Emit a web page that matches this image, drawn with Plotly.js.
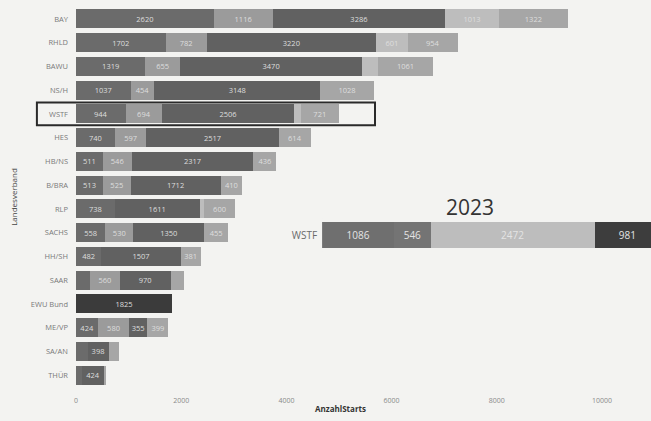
<!DOCTYPE html>
<html>
<head>
<meta charset="utf-8">
<script src="https://cdn.plot.ly/plotly-3.0.1.min.js"></script>
<style>html,body{margin:0;padding:0;background:#f3f3f1;}</style>
</head>
<body>
<div id="chart" style="width:651px;height:421px;"></div>
<script>
// Landesverbände (top to bottom)
const categories = ['BAY','RHLD','BAWU','NS/H','WSTF','HES','HB/NS','B/BRA','RLP','SACHS','HH/SH','SAAR','EWU Bund','ME/VP','SA/AN','THÜR'];
// stacked series (AnzahlStarts)
const series1 = [2620,1702,1319,1037,944,740,511,513,738,558,482,270,0,424,220,110];
const series2 = [1116,782,655,454,694,597,546,525,0,530,0,560,0,580,0,0];
const series3 = [3286,3220,3470,3148,2506,2517,2317,1712,1611,1350,1507,970,0,355,398,424];
const series4 = [1013,601,290,0,130,0,0,0,80,0,0,0,0,0,0,0];
const series5 = [1322,954,1061,1028,721,614,436,410,600,455,381,250,0,399,190,40];
const series6 = [0,0,0,0,0,0,0,0,0,0,0,0,1825,0,0,0];
const seriesColors = ['#6b6b6b','#9b9b9b','#616161','#bdbdbd','#a6a6a6','#3b3b3b'];

// x-axis ticks
const xTickVals = [0, 2000, 4000, 6000, 8000, 10000];
const xTickText = ['0', '2000', '4000', '6000', '8000', '10000'];

// 2023 panel
const cat2023 = ['WSTF'];
const v2023 = [1086, 546, 2472, 981];
const colors2023 = ['#6f6f6f','#747474','#bdbdbd','#3d3d3d'];

const font = 'Open Sans, DejaVu Sans, sans-serif';
const label = v => (v >= 300 ? String(v) : '');

const mainSeries = [series1, series2, series3, series4, series5, series6];
const traces = mainSeries.map((vals, i) => ({
  type: 'bar', orientation: 'h',
  y: categories, x: vals,
  name: 'S' + (i + 1),
  marker: {color: seriesColors[i], line: {width: 0}},
  text: vals.map(label),
  textposition: 'inside', insidetextanchor: 'middle',
  textangle: 0, constraintext: 'none',
  textfont: {size: 7.5, color: '#dedede', family: font},
  hoverinfo: 'x+y',
  xaxis: 'x', yaxis: 'y'
}));

v2023.forEach((v, i) => {
  traces.push({
    type: 'bar', orientation: 'h',
    y: cat2023, x: [v],
    name: '2023-' + (i + 1),
    marker: {color: colors2023[i], line: {width: 0}},
    text: [String(v)],
    textposition: 'inside', insidetextanchor: 'middle',
    textangle: 0, constraintext: 'none',
    textfont: {size: 10, color: '#e4e4e4', family: font},
    xaxis: 'x2', yaxis: 'y2'
  });
});

const layout = {
  width: 651, height: 421,
  margin: {l: 76, r: 0, t: 7, b: 34},
  paper_bgcolor: '#f3f3f1', plot_bgcolor: '#f3f3f1',
  barmode: 'stack', bargap: 0.2,
  showlegend: false,
  font: {family: font},
  xaxis: {
    domain: [0, 0.92], range: [0, 10057],
    tickvals: xTickVals, ticktext: xTickText,
    showgrid: false, zeroline: false, showline: false, ticks: '',
    ticklabelstandoff: 8,
    tickfont: {size: 7, color: '#8a8a8a', family: font},
    title: {text: '<b>AnzahlStarts</b>', font: {size: 8, color: '#333333', family: font}, standoff: 2},
    automargin: false
  },
  yaxis: {
    autorange: 'reversed', type: 'category',
    showgrid: false, zeroline: false, showline: false, ticks: '',
    ticklabelstandoff: 7,
    tickfont: {size: 7.5, color: '#7a7a7a', family: font},
    title: {text: 'Landesverband', font: {size: 8, color: '#444444', family: font}, standoff: 12},
    automargin: false
  },
  xaxis2: {
    domain: [0.428, 1], range: [0, 4950], anchor: 'y2',
    visible: false, showgrid: false, zeroline: false
  },
  yaxis2: {
    domain: [0.357, 0.443], anchor: 'x2', type: 'category',
    showgrid: false, zeroline: false, showline: false, ticks: '',
    ticklabelstandoff: 4,
    tickfont: {size: 10, color: '#6a6a6a', family: font}
  },
  annotations: [{
    text: '2023', xref: 'paper', yref: 'paper', x: 0.685, y: 0.474,
    xanchor: 'center', yanchor: 'middle', showarrow: false,
    font: {size: 21, color: '#333333', family: font}
  }],
  shapes: [{
    type: 'rect', xref: 'paper', yref: 'y',
    x0: -0.068, x1: 0.52, y0: 3.52, y1: 4.48,
    line: {color: '#2a2a2a', width: 2}, fillcolor: 'rgba(0,0,0,0)'
  }]
};

Plotly.newPlot('chart', traces, layout, {displayModeBar: false, staticPlot: true});
</script>
</body>
</html>
